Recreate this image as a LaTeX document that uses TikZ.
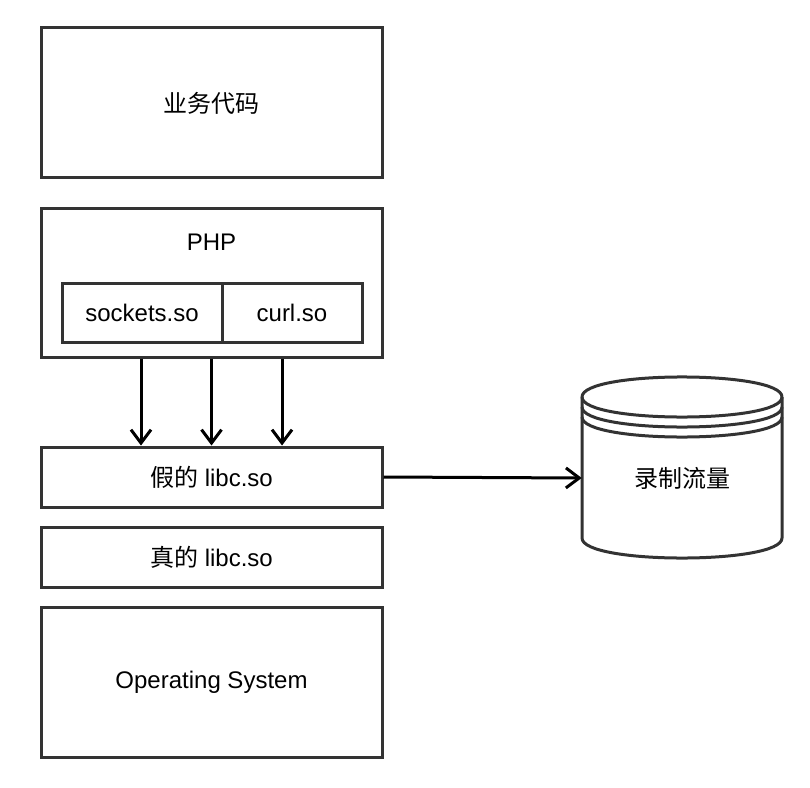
\documentclass[tikz,border=0pt]{standalone}
\usepackage{fontspec}
\setmainfont{Liberation Sans}
\newfontfamily\cjk{Noto Sans CJK SC}
\usepackage{tikz}
\usetikzlibrary{positioning, arrows.meta}
\newcommand{\pxu}{0.75pt}
\tikzset{
  layer/.style={rectangle, draw=black!80, line width=2.25pt, fill=white, align=center,
                minimum width=341*\pxu, inner sep=0pt, font=\fontsize{18}{22}\selectfont},
  lib/.style={layer, minimum height=59*\pxu, outer sep=0pt},
  lbl/.style={inner sep=0pt, font=\fontsize{18}{22}\selectfont},
  dbline/.style={draw=black!80, line width=2.25pt},
  arr/.style={-{Straight Barb[length=10pt, width=15pt]}, line width=2.25pt},
}

\begin{document}
\begin{tikzpicture}[x=0.75pt, y=-0.75pt]
  \useasboundingbox (0,0) rectangle (810,788);
  % layer stack
  \node[layer, minimum height=150*\pxu] (biz) at (211.5,103) {{\cjk 业务代码}};
  \node[layer, minimum height=149*\pxu] (php) at (211.5,282.5) {};
  \node[lbl] (phpname) at (211.5,242) {PHP};
  \node[lib, minimum width=160*\pxu] (sock) at (142,312.5) {sockets.so};
  \node[lib, minimum width=140*\pxu, right=0pt of sock] (curl) {curl.so};
  \node[layer, minimum height=60*\pxu] (fake) at (211.5,477) {{\cjk 假的} libc.so};
  \node[layer, minimum height=60*\pxu] (real) at (211.5,557) {{\cjk 真的} libc.so};
  \node[layer, minimum height=150*\pxu] (os) at (211.5,682) {Operating System};
  % data store
  \draw[dbline] (782,397) .. controls (782,370.3) and (582,370.3) .. (582,397) -- (582,538)
    .. controls (582,564.7) and (782,564.7) .. (782,538) -- (782,397);
  \foreach \dy in {0,10,20}
    \draw[dbline] (582,{397+\dy}) .. controls (582,{423.7+\dy}) and (782,{423.7+\dy}) .. (782,{397+\dy});
  \node[lbl, minimum width=200*\pxu] (rec) at (682,478) {{\cjk 录制流量}};
  % calls
  \foreach \dx in {-70.5,0,70.5}
    \draw[arr] ([xshift=\dx*\pxu]php.south) -- ([xshift=\dx*\pxu]fake.north);
  \draw[arr] (fake.east) -- (rec.west);
\end{tikzpicture}
\end{document}
